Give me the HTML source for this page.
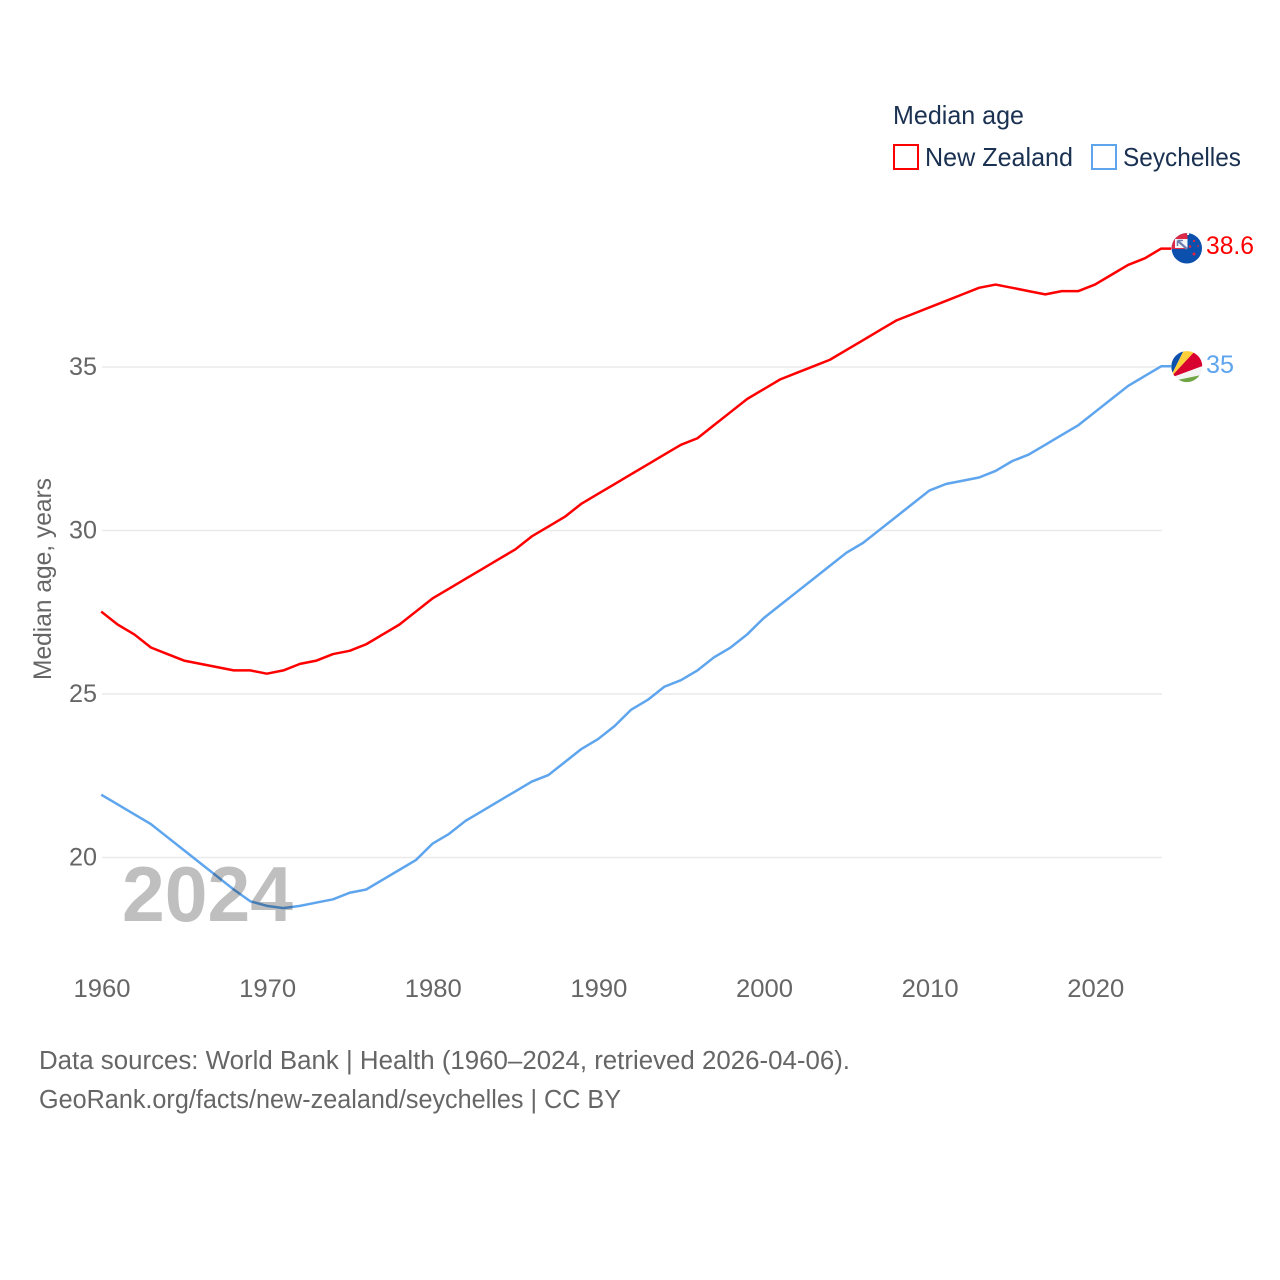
<!DOCTYPE html>
<html lang="en">
<head>
<meta charset="utf-8">
<title>Median age: New Zealand and Seychelles</title>
<style>
html,body{margin:0;padding:0;background:#fff;width:1280px;height:1280px;overflow:hidden}
svg{display:block}
text{font-family:"Liberation Sans",sans-serif}
</style>
</head>
<body>
<svg id="chart" width="1280" height="1280" viewBox="0 0 1280 1280" xmlns="http://www.w3.org/2000/svg">
  <defs>
    <clipPath id="nz-clip"><circle cx="1186.8" cy="248.3" r="15.2"/></clipPath>
    <clipPath id="sc-clip"><circle cx="1186.8" cy="366.6" r="15.5"/></clipPath>
  </defs>
  <rect width="1280" height="1280" fill="#fff"/>
  <g id="grid"></g>
  <g id="y-ticks"></g>
  <g id="x-ticks"></g>
  <text transform="translate(51,680) rotate(-90)" font-size="25" fill="#666" textLength="202" lengthAdjust="spacingAndGlyphs">Median age, years</text>
  <g id="series" transform="translate(-0.8,-0.7)"></g>
  <text x="122" y="921" font-size="78" font-weight="bold" fill="#bfbfbf" style="mix-blend-mode:multiply" textLength="171" lengthAdjust="spacingAndGlyphs">2024</text>

  <g>
    <text x="893" y="124" font-size="26" fill="#1a3152" textLength="131" lengthAdjust="spacingAndGlyphs">Median age</text>
    <rect x="894" y="145" width="24" height="24" fill="#fff" stroke="#ff0000" stroke-width="2"/>
    <text x="925" y="166" font-size="26" fill="#1a3152" textLength="148" lengthAdjust="spacingAndGlyphs">New Zealand</text>
    <rect x="1092" y="145" width="24" height="24" fill="#fff" stroke="#5ea5ee" stroke-width="2"/>
    <text x="1123" y="166" font-size="26" fill="#1a3152" textLength="118" lengthAdjust="spacingAndGlyphs">Seychelles</text>
  </g>

  <g>
    <g clip-path="url(#nz-clip)">
      <rect x="1170" y="231" width="34" height="34" fill="#0a50ac"/>
      <rect x="1171" y="232" width="16.500" height="17" fill="#dc2a48"/>
      <rect x="1175" y="239" width="12.500" height="9" fill="#f6f6fa"/>
      <path d="M1178 241L1187 249" stroke="#6c7fae" stroke-width="2.200"/>
      <path d="M1177.500 240.500V246M1177.500 240.500H1183" stroke="#6c7fae" stroke-width="1.500" fill="none"/>
      <rect x="1187" y="231" width="2" height="4" fill="#fff"/>
      <circle cx="1190" cy="246.500" r="1.300" fill="#e8213f"/>
      <circle cx="1194" cy="241" r="1.100" fill="#e8213f"/>
      <circle cx="1198" cy="246" r="0.900" fill="#e8213f"/>
      <circle cx="1194" cy="254" r="1.500" fill="#e8213f"/>
    </g>
  </g>
  <g>
    <g clip-path="url(#sc-clip)">
      <rect x="1170" y="350" width="34" height="34" fill="#f4f4f4"/>
      <path d="M1170 378V350H1184Z" fill="#0a50ac"/>
      <path d="M1170 378L1184 350H1196Z" fill="#fdd03a"/>
      <path d="M1170 378L1196 350H1204V365.500Z" fill="#d8002f"/>
      <path d="M1175 380.500L1204 374.500V385H1175Z" fill="#6fa544"/>
    </g>
  </g>

  <text x="1206" y="254" font-size="25" fill="#ff0000" textLength="48" lengthAdjust="spacingAndGlyphs">38.6</text>
  <text x="1206" y="373" font-size="25" fill="#5ea5ee" textLength="28" lengthAdjust="spacingAndGlyphs">35</text>

  <text x="39" y="1069" font-size="25.500" fill="#666" textLength="811" lengthAdjust="spacingAndGlyphs">Data sources: World Bank | Health (1960–2024, retrieved 2026-04-06).</text>
  <text x="39" y="1108" font-size="25.500" fill="#666" textLength="582" lengthAdjust="spacingAndGlyphs">GeoRank.org/facts/new-zealand/seychelles | CC BY</text>
</svg>
<script>
const years = [1960,1961,1962,1963,1964,1965,1966,1967,1968,1969,1970,1971,1972,1973,1974,1975,1976,1977,1978,1979,1980,1981,1982,1983,1984,1985,1986,1987,1988,1989,1990,1991,1992,1993,1994,1995,1996,1997,1998,1999,2000,2001,2002,2003,2004,2005,2006,2007,2008,2009,2010,2011,2012,2013,2014,2015,2016,2017,2018,2019,2020,2021,2022,2023,2024];
const newZealand = [27.5,27.1,26.8,26.4,26.2,26.0,25.9,25.8,25.7,25.7,25.6,25.7,25.9,26.0,26.2,26.3,26.5,26.8,27.1,27.5,27.9,28.2,28.5,28.8,29.1,29.4,29.8,30.1,30.4,30.8,31.1,31.4,31.7,32.0,32.3,32.6,32.8,33.2,33.6,34.0,34.3,34.6,34.8,35.0,35.2,35.5,35.8,36.1,36.4,36.6,36.8,37.0,37.2,37.4,37.5,37.4,37.3,37.2,37.3,37.3,37.5,37.8,38.1,38.3,38.6];
const seychelles = [21.9,21.6,21.3,21.0,20.6,20.2,19.8,19.4,19.0,18.64,18.5,18.43,18.5,18.6,18.7,18.9,19.0,19.3,19.6,19.9,20.4,20.7,21.1,21.4,21.7,22.0,22.3,22.5,22.9,23.3,23.6,24.0,24.5,24.8,25.2,25.4,25.7,26.1,26.4,26.8,27.3,27.7,28.1,28.5,28.9,29.3,29.6,30.0,30.4,30.8,31.2,31.4,31.5,31.6,31.8,32.1,32.3,32.6,32.9,33.2,33.6,34.0,34.4,34.7,35.0];
const yTickValues = [20,25,30,35];
const xTickValues = [1960,1970,1980,1990,2000,2010,2020];

const NS = 'http://www.w3.org/2000/svg';
function xScale(year){ return 102 + (year - 1960) * (1162 - 102) / 64; }
function yScale(v){ return 857.5 - (v - 20) * (857.5 - 367) / 15; }

const gridGroup = document.getElementById('grid');
const yGroup = document.getElementById('y-ticks');
const xGroup = document.getElementById('x-ticks');
const seriesGroup = document.getElementById('series');

yTickValues.forEach(function(v){
  const line = document.createElementNS(NS,'line');
  
  
  line.setAttribute('x1', xScale(1960));
  line.setAttribute('x2', xScale(2024));
  line.setAttribute('y1', yScale(v));
  line.setAttribute('y2', yScale(v));
  line.setAttribute('stroke', '#eaeaea');
  line.setAttribute('stroke-width', '1.5');
  gridGroup.appendChild(line);

  const t = document.createElementNS(NS,'text');
  
  
  t.setAttribute('x', 69);
  t.setAttribute('y', yScale(v) + 8);
  t.setAttribute('font-size', '25');
  t.setAttribute('fill', '#666');
  t.setAttribute('textLength', '28');
  t.setAttribute('lengthAdjust', 'spacingAndGlyphs');
  t.textContent = String(v);
  yGroup.appendChild(t);
});

xTickValues.forEach(function(year){
  const t = document.createElementNS(NS,'text');
  
  
  t.setAttribute('x', xScale(year) - 28.5);
  t.setAttribute('y', 997);
  t.setAttribute('font-size', '25');
  t.setAttribute('fill', '#666');
  t.setAttribute('textLength', '57');
  t.setAttribute('lengthAdjust', 'spacingAndGlyphs');
  t.textContent = String(year);
  xGroup.appendChild(t);
});

function drawSeries(values, color, name){
  const last = values.length - 1;
  let d = '';
  values.forEach(function(v, i){
    d += (i ? 'L' : 'M') + xScale(years[i]).toFixed(2) + ' ' + yScale(v).toFixed(2);
  });
  d += 'L' + (xScale(years[last]) + 10).toFixed(2) + ' ' + yScale(values[last]).toFixed(2);
  const p = document.createElementNS(NS,'path');
  
  
  p.setAttribute('d', d);
  p.setAttribute('fill', 'none');
  p.setAttribute('stroke', color);
  p.setAttribute('stroke-width', '2.5');
  p.setAttribute('stroke-linejoin', 'round');
  seriesGroup.appendChild(p);
}
drawSeries(seychelles, '#5ea5ee', 'seychelles');
drawSeries(newZealand, '#ff0000', 'new-zealand');
</script>
</body>
</html>
